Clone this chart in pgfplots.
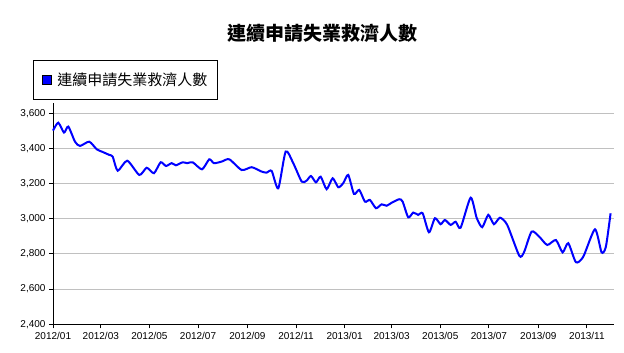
\documentclass[border=0pt]{standalone}
\usepackage{fontspec}
\setmainfont{Liberation Sans}
\newfontfamily\cjk{Noto Sans CJK TC}
\usepackage{pgfplots}
\usepackage{pgfplotstable}
\pgfplotsset{compat=1.18}
\definecolor{gridgray}{RGB}{192,192,192}
\definecolor{lineblue}{RGB}{0,0,255}
\pgfplotstableread{
day value
0 3501
6.6 3546
13.8 3490
19.2 3524
27.6 3438
33.9 3414
45.5 3438
54.8 3395
61.1 3382
70.6 3363
74.9 3353
81.2 3273
93.2 3330
108.3 3249
117.6 3290
126.7 3259
135.1 3321
141.8 3300
148.9 3316
154.3 3304
162.7 3321
168.5 3316
175.3 3321
187.0 3281
196.1 3338
202.0 3316
211.7 3325
221.2 3338
236.8 3277
249.3 3293
261.9 3268
268.1 3262
274.4 3272
282.7 3173
292.0 3382
301.5 3316
312.1 3211
318.3 3217
323.7 3243
330.0 3207
335.9 3239
343.4 3168
350.9 3230
358.0 3179
364.2 3202
370.5 3249
377.7 3141
384.3 3164
391.5 3097
397.7 3107
405.3 3060
412.4 3082
418.7 3074
425.0 3091
434.5 3111
438.8 3097
445.8 3008
452.1 3035
458.3 3022
463.9 3031
471.8 2923
479.3 3003
486.4 2969
491.8 2993
499.0 2965
505.3 2983
511.5 2949
524.1 3120
531.6 3006
538.6 2952
546.2 3022
553.3 2969
560.9 3006
570.0 2965
585.1 2790
591.0 2809
600.6 2927
610.2 2898
620.2 2851
631.1 2879
639.5 2809
646.6 2861
656.2 2753
665.4 2784
680.1 2940
688.4 2809
693.8 2841
699.7 3031
}\claims
\begin{document}
\begin{tikzpicture}
\useasboundingbox (0,0) rectangle (624bp,353bp);
\node[font=\cjk\bfseries\fontsize{19bp}{22bp}\selectfont] at (322bp,320bp) {連續申請失業救濟人數};
\begin{axis}[
  at={(53bp,28.7bp)}, anchor=south west,
  scale only axis, width=561bp, height=221.3bp,
  xmin=0, xmax=704, ymin=2400, ymax=3658,
  axis x line=bottom, axis y line=left,
  axis line style={-, black, line width=1bp},
  xtick={0,60,121,182,244,305,366,425,486,547,609,670},
  xticklabels={2012/01,2012/03,2012/05,2012/07,2012/09,2012/11,2013/01,2013/03,2013/05,2013/07,2013/09,2013/11},
  ytick={2400,2600,2800,3000,3200,3400,3600},
  ymajorgrids, grid style={gridgray, line width=1bp},
  tick align=outside, major tick length=4bp,
  tick style={black, line width=1bp},
  ticklabel style={font=\fontsize{10bp}{12bp}\selectfont},
  /pgf/number format/1000 sep={,},
  /pgf/number format/assume math mode=true,
  clip=false,
  legend style={at={(-0.0357,1.0136)}, anchor=south west, draw=black, line width=1bp,
    font=\cjk\fontsize{15bp}{18bp}\selectfont, inner xsep=8.5bp, inner ysep=10.5bp,
    legend cell align=left},
  legend image code/.code={\path[draw=none, fill=none] (0bp,0bp) rectangle (13bp,0.1bp); \draw[fill=lineblue, draw=black, line width=0.8bp] (0bp,-4.5bp) rectangle (9bp,4.5bp);},
]
\addplot[lineblue, line width=2bp, smooth, tension=0.4] table[x=day, y=value] {\claims};
\addlegendentry{連續申請失業救濟人數}
\end{axis}
\end{tikzpicture}
\end{document}
